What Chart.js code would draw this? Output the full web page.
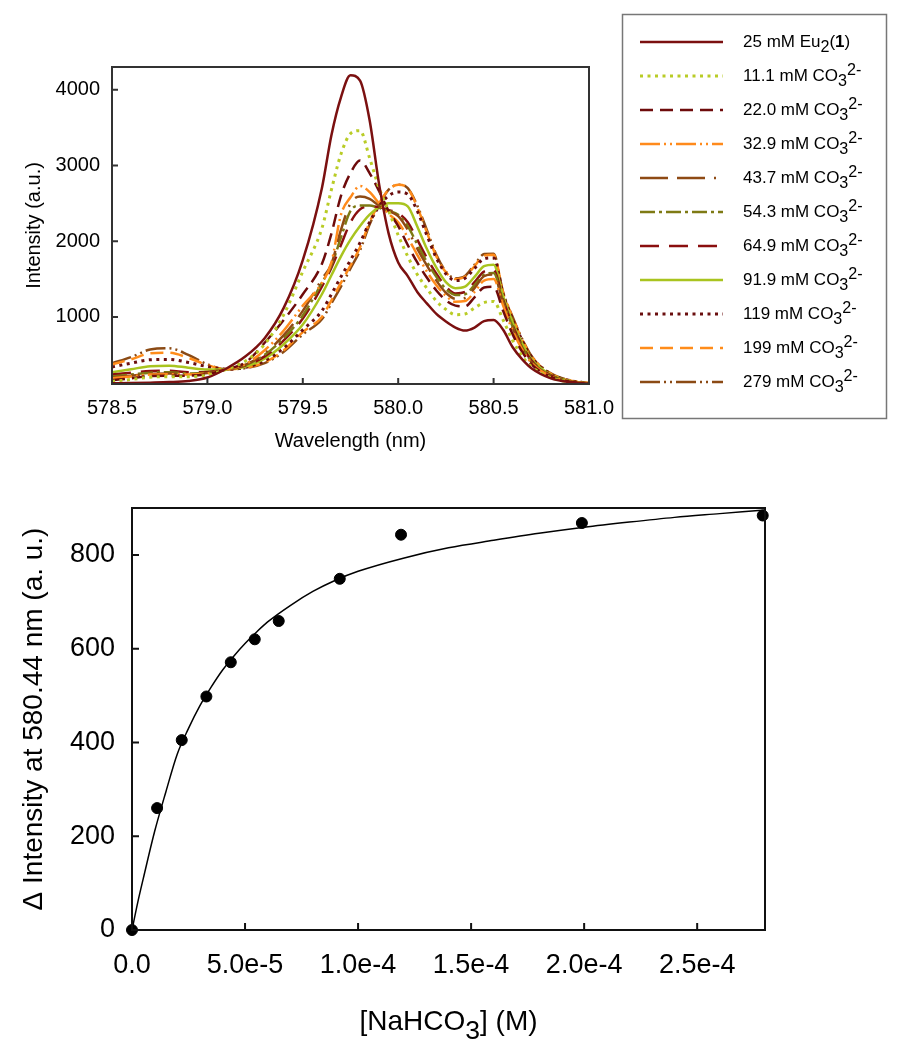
<html>
  <head>
   <title>Eu2(1) carbonate titration</title>
   <script src="https://cdn.jsdelivr.net/npm/chart.js@4.4.0/dist/chart.umd.min.js"></script>
   <style>
    body{ margin:0; background:#fff; }
    #top{ position:absolute; left:0; top:0; width:900px; height:470px; }
    #bottom{ position:absolute; left:0; top:470px; width:900px; height:580px; }
   </style>
  </head>

  <body>
    <div id="top"><canvas id="spectra"></canvas></div>
    <div id="bottom"><canvas id="titration"></canvas></div>
  </body>

  <script>
    // ---- spectra (top panel) ----
    var wavelength = [578.5,578.6,578.7,578.8,578.9,579.0,579.1,579.2,579.3,579.4,579.5,579.6,579.65,579.7,579.75,579.8,579.85,579.9,579.95,580.0,580.05,580.1,580.15,580.2,580.25,580.3,580.35,580.4,580.45,580.5,580.55,580.6,580.65,580.7,580.8,580.9,581.0];

    var eu1   = [125,128,133,140,155,200,320,480,720,1120,1750,2700,3400,3900,4190,4120,3600,2750,2100,1720,1540,1330,1180,1040,940,860,820,860,945,960,830,600,440,320,190,140,118];
    var c111  = [150,175,205,212,212,235,310,420,640,1030,1600,2170,2680,3150,3420,3460,3100,2700,2400,2080,1800,1560,1380,1210,1100,1030,1040,1120,1190,1205,960,690,480,340,200,140,116];
    var c220  = [165,190,220,225,225,245,310,400,660,960,1300,1700,2100,2600,2900,3066,2900,2660,2400,2200,1950,1720,1520,1350,1220,1150,1140,1260,1390,1400,1080,770,540,370,210,145,118];
    var c329  = [190,215,240,245,240,255,310,380,560,820,1150,1450,1720,2350,2580,2730,2650,2500,2360,2250,2050,1820,1600,1420,1280,1200,1210,1330,1480,1500,1150,820,570,390,215,148,120];
    var c437  = [200,225,250,255,245,260,310,370,520,760,1080,1500,1700,2150,2500,2590,2560,2470,2400,2330,2150,1900,1680,1480,1320,1240,1250,1380,1540,1560,1180,850,590,400,220,150,120];
    var c543  = [215,240,265,270,255,265,310,365,500,720,1020,1450,1680,2050,2400,2470,2470,2440,2400,2350,2200,1960,1730,1530,1370,1290,1300,1420,1560,1580,1200,870,600,410,225,150,120];
    var c649  = [240,265,285,290,270,275,310,360,480,690,980,1400,1650,1950,2250,2420,2460,2450,2410,2370,2250,2020,1780,1570,1400,1310,1330,1460,1600,1620,1230,890,620,420,230,152,120];
    var c919  = [270,310,350,357,330,305,310,345,450,640,900,1300,1550,1800,2020,2200,2350,2450,2500,2500,2460,2195,1900,1650,1460,1380,1400,1530,1670,1690,1270,930,650,440,235,155,122];
    var c119  = [340,390,435,440,400,345,310,335,420,590,830,1080,1300,1530,1750,1980,2250,2460,2600,2650,2620,2400,2080,1780,1570,1480,1510,1640,1770,1780,1300,970,690,465,245,160,125];
    var c199  = [375,440,520,528,460,365,310,330,400,560,800,1000,1220,1450,1680,1920,2250,2500,2680,2745,2700,2450,2120,1800,1590,1500,1530,1670,1810,1820,1320,990,700,475,250,162,126];
    var c279  = [388,470,570,586,500,375,310,325,390,540,770,970,1180,1400,1640,1880,2220,2480,2680,2745,2700,2470,2150,1820,1600,1510,1540,1690,1830,1835,1325,1000,710,480,255,165,128];

    var spectra = [eu1,c111,c220,c329,c437,c543,c649,c919,c119,c199,c279];
    var concLabels = ['11.1','22.0','32.9','43.7','54.3','64.9','91.9','119','199','279'];
    var lineColors = ['#7b1010','#b9cc26','#6e0b0b','#ff8a1c','#8e4a14','#7e7a14','#8a0f0f','#a9c41f','#6a0e0e','#ff8c1a','#8b4a14'];
    var lineDashes = [[],[3,4.5],[13,7],[20,4,2,4,2,4],[28,9,28,9,2,9],[15,4,3,4],[19,10],[],[3,4.5],[13,7],[20,4,2,4,2,4]];

    var wlTicks = [578.5,579.0,579.5,580.0,580.5,581.0];
    var intTicks = [1000,2000,3000,4000];

    // ---- titration (bottom panel) ----
    var nahco3 = [0,1.11e-5,2.20e-5,3.29e-5,4.37e-5,5.43e-5,6.49e-5,9.19e-5,1.19e-4,1.99e-4,2.79e-4];
    var deltaI = [0,260,405,498,571,620,659,749,843,868,884];
    var fitX = [0,0.25e-5,0.5e-5,1e-5,1.5e-5,2e-5,2.5e-5,3e-5,3.5e-5,4e-5,4.5e-5,5e-5,5.5e-5,6e-5,7e-5,8e-5,9e-5,1e-4,1.2e-4,1.4e-4,1.6e-4,1.8e-4,2e-4,2.2e-4,2.4e-4,2.6e-4,2.8e-4];
    var fitY = [0,58,110,210,295,375,430,478,518,554,584,611,635,657,692,722,746,765,793,815,831,846,859,870,880,888,896];
    var concTicks = [0,5e-5,1e-4,1.5e-4,2e-4,2.5e-4];
    var concTickLabels = ['0.0','5.0e-5','1.0e-4','1.5e-4','2.0e-4','2.5e-4'];
    var dTicks = [0,200,400,600,800];

    var FONT = '"Liberation Sans", Arial, Helvetica, sans-serif';
    Chart.defaults.font.family = FONT;
    Chart.defaults.color = '#000';

    // rich text: parts of [text, style] where style is n / sub / sup / b
    function drawRich(ctx, parts, x, y, size, align){
      var widths = [], total = 0;
      parts.forEach(function(p){
        ctx.font = fontFor(p[1], size);
        var w = ctx.measureText(p[0]).width;
        widths.push(w); total += w;
      });
      if (align === 'center') x -= total/2;
      parts.forEach(function(p, i){
        var dy = 0;
        if (p[1] === 'sub') dy = size*0.35;
        if (p[1] === 'sup') dy = -size*0.35;
        ctx.font = fontFor(p[1], size);
        ctx.fillText(p[0], x, y + dy);
        x += widths[i];
      });
    }
    function fontFor(st, size){
      var f = (st === 'sub' || st === 'sup') ? size*0.95 : size;
      return (st === 'b' ? 'bold ' : '') + f + 'px ' + FONT;
    }

    // frame round the plot area plus inward tick marks
    var framePlugin = {
      id: 'frame',
      afterDatasetsDraw: function(chart, args, opts){
        var ctx = chart.ctx, a = chart.chartArea;
        ctx.save();
        ctx.strokeStyle = opts.color;
        ctx.lineWidth = opts.width;
        ctx.strokeRect(a.left, a.top, a.right - a.left, a.bottom - a.top);
        ctx.beginPath();
        var sx = chart.scales.x, sy = chart.scales.y;
        sx.ticks.forEach(function(t){
          var p = sx.getPixelForValue(t.value);
          ctx.moveTo(p, a.bottom); ctx.lineTo(p, a.bottom - opts.len);
        });
        sy.ticks.forEach(function(t){
          var p = sy.getPixelForValue(t.value);
          ctx.moveTo(a.left, p); ctx.lineTo(a.left + opts.len, p);
        });
        ctx.stroke();
        ctx.restore();
      }
    };

    var legendPlugin = {
      id: 'boxLegend',
      afterDraw: function(chart){
        var ctx = chart.ctx;
        ctx.save();
        ctx.strokeStyle = '#777';
        ctx.lineWidth = 1.5;
        ctx.strokeRect(622.5, 14.5, 264, 404);
        ctx.textBaseline = 'middle';
        ctx.fillStyle = '#000';
        chart.data.datasets.forEach(function(ds, i){
          var y = 42 + i*34;
          ctx.beginPath();
          ctx.strokeStyle = ds.borderColor;
          ctx.lineWidth = ds.borderWidth;
          ctx.setLineDash(ds.borderDash);
          ctx.moveTo(640, y); ctx.lineTo(723, y);
          ctx.stroke();
          ctx.setLineDash([]);
          drawRich(ctx, ds.richLabel, 743, y, 17);
        });
        ctx.restore();
      }
    };

    var xTitlePlugin = {
      id: 'xTitle',
      afterDraw: function(chart){
        var ctx = chart.ctx, a = chart.chartArea;
        ctx.save();
        ctx.fillStyle = '#000';
        ctx.textBaseline = 'middle';
        drawRich(ctx, [['[NaHCO','n'],['3','sub'],['] (M)','n']], (a.left + a.right)/2, 552, 28, 'center');
        ctx.restore();
      }
    };

    function fixedTicks(vals){
      return function(scale){ scale.ticks = vals.map(function(v){ return {value: v}; }); };
    }

    var spectraSets = spectra.map(function(vals, i){
      var rich = i === 0
        ? [['25 mM Eu','n'],['2','sub'],['(','n'],['1','b'],[')','n']]
        : [[concLabels[i-1] + ' mM CO','n'],['3','sub'],['2-','sup']];
      var dotted = lineDashes[i].length === 2 && lineDashes[i][0] < 4;
      return {
        label: i === 0 ? '25 mM Eu2(1)' : concLabels[i-1] + ' mM CO3 2-',
        richLabel: rich,
        data: wavelength.map(function(w, j){ return {x: w, y: vals[j]}; }),
        borderColor: lineColors[i],
        borderWidth: dotted ? 3 : 2.5,
        borderDash: lineDashes[i],
        pointRadius: 0,
        fill: false,
        cubicInterpolationMode: 'monotone'
      };
    });

    new Chart(document.getElementById('spectra'), {
      type: 'line',
      data: { datasets: spectraSets },
      options: {
        responsive: true,
        maintainAspectRatio: false,
        animation: false,
        devicePixelRatio: 1,
        layout: { padding: { left: 0, top: 67, right: 311, bottom: 0 } },
        plugins: { legend: { display: false }, tooltip: { enabled: false }, frame: { color: '#333', width: 2, len: 6 } },
        scales: {
          x: {
            type: 'linear', min: 578.5, max: 581.0,
            afterBuildTicks: fixedTicks(wlTicks),
            afterFit: function(s){ s.height = 86; },
            grid: { display: false, drawTicks: false },
            border: { display: false },
            ticks: { padding: 12, font: { size: 20 }, callback: function(v){ return v.toFixed(1); } },
            title: { display: true, text: 'Wavelength (nm)', font: { size: 20, lineHeight: 1.2 }, padding: { top: 0, bottom: 17 } }
          },
          y: {
            min: 115, max: 4300,
            afterBuildTicks: fixedTicks(intTicks),
            afterFit: function(s){ s.width = 112; },
            grid: { display: false, drawTicks: false },
            border: { display: false },
            ticks: { padding: 12, font: { size: 20 }, callback: function(v){ return String(v); } },
            title: { display: true, text: 'Intensity (a.u.)', font: { size: 20, lineHeight: 1.2 }, padding: { top: 22, bottom: 0 } }
          }
        }
      },
      plugins: [framePlugin, legendPlugin]
    });

    new Chart(document.getElementById('titration'), {
      type: 'scatter',
      data: {
        datasets: [
          {
            label: 'fit',
            type: 'line',
            data: fitX.map(function(c, j){ return {x: c, y: fitY[j]}; }),
            borderColor: '#000',
            borderWidth: 1.5,
            pointRadius: 0,
            cubicInterpolationMode: 'monotone'
          },
          {
            label: 'data',
            data: nahco3.map(function(c, j){ return {x: c, y: deltaI[j]}; }),
            backgroundColor: '#000',
            borderColor: '#000',
            pointRadius: 5.5,
            clip: false
          }
        ]
      },
      options: {
        responsive: true,
        maintainAspectRatio: false,
        animation: false,
        devicePixelRatio: 1,
        layout: { padding: { left: 0, top: 38, right: 135, bottom: 0 } },
        plugins: { legend: { display: false }, tooltip: { enabled: false }, frame: { color: '#111', width: 2, len: 7 } },
        scales: {
          x: {
            type: 'linear', min: 0, max: 2.8e-4,
            afterBuildTicks: fixedTicks(concTicks),
            afterFit: function(s){ s.height = 120; },
            grid: { display: false, drawTicks: false },
            border: { display: false },
            ticks: { padding: 19, font: { size: 27 }, callback: function(v, i){ return concTickLabels[i]; } }
          },
          y: {
            min: 0, max: 900,
            afterBuildTicks: fixedTicks(dTicks),
            afterFit: function(s){ s.width = 132; },
            grid: { display: false, drawTicks: false },
            border: { display: false },
            ticks: { padding: 17, font: { size: 27 }, callback: function(v){ return String(v); } },
            title: { display: true, text: '\u0394 Intensity at 580.44 nm (a. u.)', font: { size: 28, lineHeight: 1.2 }, padding: { top: 17, bottom: 0 } }
          }
        }
      },
      plugins: [framePlugin, xTitlePlugin]
    });
  </script>
</html>
